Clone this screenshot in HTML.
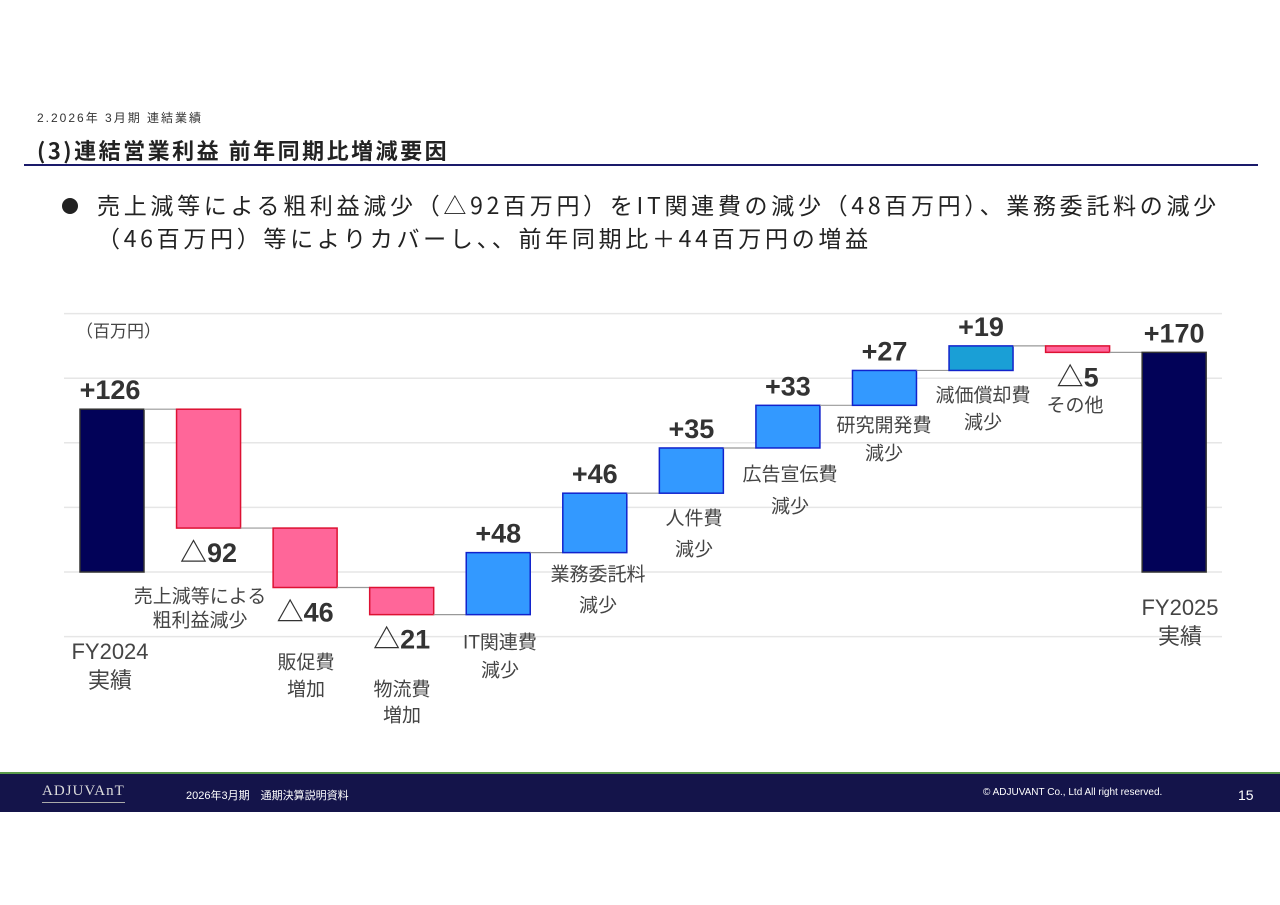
<!DOCTYPE html>
<html><head><meta charset="utf-8">
<style>
body{margin:0;width:1280px;height:905px;background:#fff;position:relative;overflow:hidden;font-family:"Liberation Sans","Noto Sans CJK JP",sans-serif;}
.abs{position:absolute;}
.jp{font-family:"Noto Sans CJK JP","Liberation Sans",sans-serif;}
</style></head><body>
<div class="abs" style="left:37px;top:109px;font-size:12px;letter-spacing:2px;color:#333;">2.2026年 3月期 連結業績</div>
<div class="abs jp" style="left:37px;top:134px;font-size:22px;font-weight:bold;color:#222;letter-spacing:2.5px;">(3)連結営業利益 前年同期比増減要因</div>
<div class="abs" style="left:24px;top:164px;width:1234px;height:2px;background:#1a1a6a;"></div>
<div class="abs" style="left:62px;top:198px;width:16px;height:16px;border-radius:50%;background:#222;"></div>
<div class="abs jp" style="left:97px;top:188px;font-size:23px;color:#222;line-height:33px;letter-spacing:3.7px;white-space:nowrap;">売上減等による粗利益減少（△92百万円）をIT関連費の減少（48百万円）、業務委託料の減少<br>（46百万円）等によりカバーし、、前年同期比＋44百万円の増益</div>
<svg class="abs" style="left:0;top:0" width="1280" height="760" id="chart"></svg>
<div class="abs" style="left:0;top:772px;width:1280px;height:40px;background:#14144a;border-top:2px solid #5a9a4a;box-sizing:border-box;"></div>
<div class="abs" style="left:42px;top:783px;font-size:15px;color:#ddd;font-family:'Liberation Serif',serif;letter-spacing:1px;border-bottom:1px solid #aaa;padding-bottom:2px;">ADJUVAnT</div>
<div class="abs" style="left:186px;top:787px;font-size:11px;color:#fff;">2026年3月期　通期決算説明資料</div>
<div class="abs" style="left:983px;top:787px;font-size:10px;color:#fff;">© ADJUVANT Co., Ltd All right reserved.</div>
<div class="abs" style="left:1238px;top:787px;font-size:14px;color:#fff;">15</div>
<script>
const categories=["FY2024|実績","売上減等による|粗利益減少","販促費|増加","物流費|増加","IT関連費|減少","業務委託料|減少","人件費|減少","広告宣伝費|減少","研究開発費|減少","減価償却費|減少","その他","FY2025|実績"];
const deltas=[126,-92,-46,-21,48,46,35,33,27,19,-5,170];
const isTotal=[true,false,false,false,false,false,false,false,false,false,false,true];
const valueLabels=["+126","△92","△46","△21","+48","+46","+35","+33","+27","+19","△5","+170"];
const gridTicks=[-50,0,50,100,150,200];
// layout (not data): category label centre x, y of first line, font size, line gap
const catLayout=[[110,650,22,29],[200,595,19,24],[306,661,19,27],[402,688,19,26],[500,641,19,28],[598,573,19,31],[694,517,19,31],[790,473,19,32],[884,424,19,28],[983,394,19,27],[1075,404,19,0],[1180,606,22,29]];
const NS="http://www.w3.org/2000/svg";
const svg=document.getElementById('chart');
const y0=572,k=64.6/50;
const Y=v=>y0-v*k;
const X=i=>112+i*96.56;
const bw=64;
function mk(t,a){const e=document.createElementNS(NS,t);for(const p in a)e.setAttribute(p,a[p]);svg.appendChild(e);return e;}
gridTicks.forEach(t=>{
const l=mk('line',{x1:64,x2:1222,y1:Y(t),y2:Y(t),stroke:'#e6e6e6','stroke-width':1.5});


});
const unit=mk('text',{x:76,y:337,'font-size':17,fill:'#444','font-family':'Noto Sans CJK JP, sans-serif'});unit.textContent='（百万円）';


let run=0;
deltas.forEach((d,i)=>{
let a,b,fill,stroke;
if(isTotal[i]){a=0;b=d;run=d;fill='#020258';stroke='#333';}
else{a=run;b=run+d;run=b;fill=d<0?'#ff6699':(i==9?'#1a9fd6':'#3399ff');stroke=d<0?'#dd1133':'#1122cc';}
const hi=Math.max(a,b),lo=Math.min(a,b);
const r=mk('rect',{x:X(i)-bw/2,y:Y(hi),width:bw,height:Y(lo)-Y(hi),fill:fill,stroke:stroke,'stroke-width':1.5});


if(i<deltas.length-1){
const c=mk('line',{x1:X(i)+bw/2,x2:X(i+1)-bw/2,y1:Y(run),y2:Y(run),stroke:'#999','stroke-width':1.2});


}
const neg=d<0;
let ly=neg?Y(lo)+34:Y(hi)-10;
let lx=X(i);
if(i==0)lx=X(i)-2;
const t=mk('text',{x:lx,y:ly,'font-size':27,'font-weight':'bold',fill:'#333','text-anchor':'middle'});
t.textContent=valueLabels[i];


const parts=categories[i].split('|');const L=catLayout[i];
parts.forEach((p,j)=>{
const ct=mk('text',{x:L[0],y:L[1]+j*L[3]+L[2]*0.4,'font-size':L[2],fill:'#444','text-anchor':'middle','font-family':'Liberation Sans, Noto Sans CJK JP, sans-serif'});
ct.textContent=p;


});
});
</script>
</body></html>
